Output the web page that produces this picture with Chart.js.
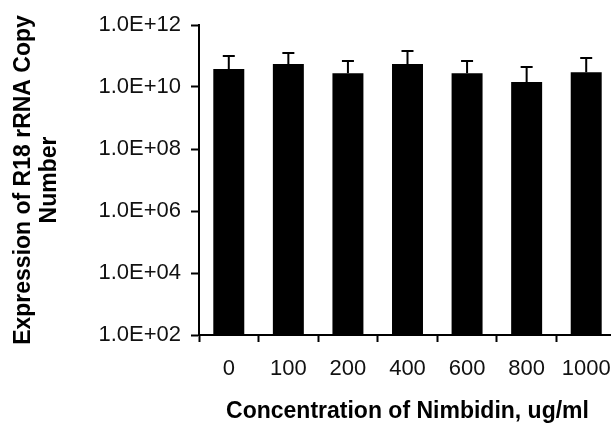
<!DOCTYPE html>
<html>
<head>
<meta charset="utf-8">
<script src="https://cdn.jsdelivr.net/npm/chart.js@4"></script>
<style>
  html, body { margin: 0; padding: 0; background: #fff; overflow: hidden; }
  #wrap { width: 640px; height: 423px; }
</style>
</head>
<body>
<div id="wrap"><canvas id="chart" width="640" height="423"></canvas></div>
<script>
// data
var concentrations = ['0', '100', '200', '400', '600', '800', '1000'];
var copyNumber = [3.8e10, 5.5e10, 2.8e10, 5.5e10, 2.8e10, 1.45e10, 3.0e10];
var errorTop = [1.0e11, 1.25e11, 6.9e10, 1.45e11, 6.9e10, 4.4e10, 8.6e10];
var yTicks = [1e2, 1e4, 1e6, 1e8, 1e10, 1e12];

var fontFamily = '"Liberation Sans", Arial, sans-serif';

function sciLabel(v) {
  var exp = Math.round(Math.log10(v));
  var mant = v / Math.pow(10, exp);
  return mant.toFixed(1) + 'E+' + String(exp).padStart(2, '0');
}

// upper error bars with caps
var errorBars = {
  id: 'errorBars',
  afterDatasetsDraw: function (chart) {
    var ctx = chart.ctx;
    var meta = chart.getDatasetMeta(0);
    var yScale = chart.scales.y;
    ctx.save();
    ctx.strokeStyle = '#000';
    ctx.lineWidth = 2;
    meta.data.forEach(function (bar, i) {
      var yt = yScale.getPixelForValue(errorTop[i]);
      ctx.beginPath();
      ctx.moveTo(bar.x, bar.y);
      ctx.lineTo(bar.x, yt);
      ctx.moveTo(bar.x - 6, yt);
      ctx.lineTo(bar.x + 6, yt);
      ctx.stroke();
    });
    ctx.restore();
  }
};

var chart = new Chart(document.getElementById('chart'), {
  type: 'bar',
  data: {
    labels: concentrations,
    datasets: [{
      data: copyNumber,
      backgroundColor: '#000',
      borderWidth: 0,
      barPercentage: 0.52,
      categoryPercentage: 1.0
    }]
  },
  options: {
    responsive: false,
    animation: false,
    layout: { padding: { top: 25, right: 24, bottom: 0, left: 0 } },
    plugins: { legend: { display: false }, tooltip: { enabled: false } },
    scales: {
      x: {
        offset: true,
        border: { display: true, color: '#000', width: 2 },
        grid: { display: true, offset: true, drawOnChartArea: false, drawTicks: true, tickLength: 7, tickWidth: 2, tickColor: '#000' },
        ticks: { color: '#111', padding: 14, maxRotation: 0, autoSkip: false, font: { family: fontFamily, size: 22 } },
        title: {
          display: true,
          text: 'Concentration of Nimbidin, ug/ml',
          color: '#000',
          padding: { top: 0, bottom: 0 },
          font: { family: fontFamily, size: 23, weight: 'bold', lineHeight: 1.0 }
        },
        afterFit: function (scale) { scale.height = 88; }
      },
      y: {
        type: 'logarithmic',
        min: 1e2,
        max: 1e12,
        border: { display: true, color: '#000', width: 2 },
        grid: { display: true, drawOnChartArea: false, drawTicks: true, tickLength: 8, tickWidth: 2, tickColor: '#000' },
        afterBuildTicks: function (scale) {
          scale.ticks = yTicks.map(function (v) { return { value: v, major: false }; });
        },
        ticks: {
          color: '#111',
          padding: 10,
          font: { family: fontFamily, size: 22 },
          callback: function (v) { return sciLabel(v); }
        },
        title: {
          display: true,
          text: ['Expression of R18 rRNA Copy', 'Number'],
          color: '#000',
          padding: { top: 11, bottom: 0 },
          font: { family: fontFamily, size: 23, weight: 'bold', lineHeight: 1.13 }
        },
        afterFit: function (scale) { scale.width = 199; }
      }
    }
  },
  plugins: [errorBars]
});
</script>
</body>
</html>
